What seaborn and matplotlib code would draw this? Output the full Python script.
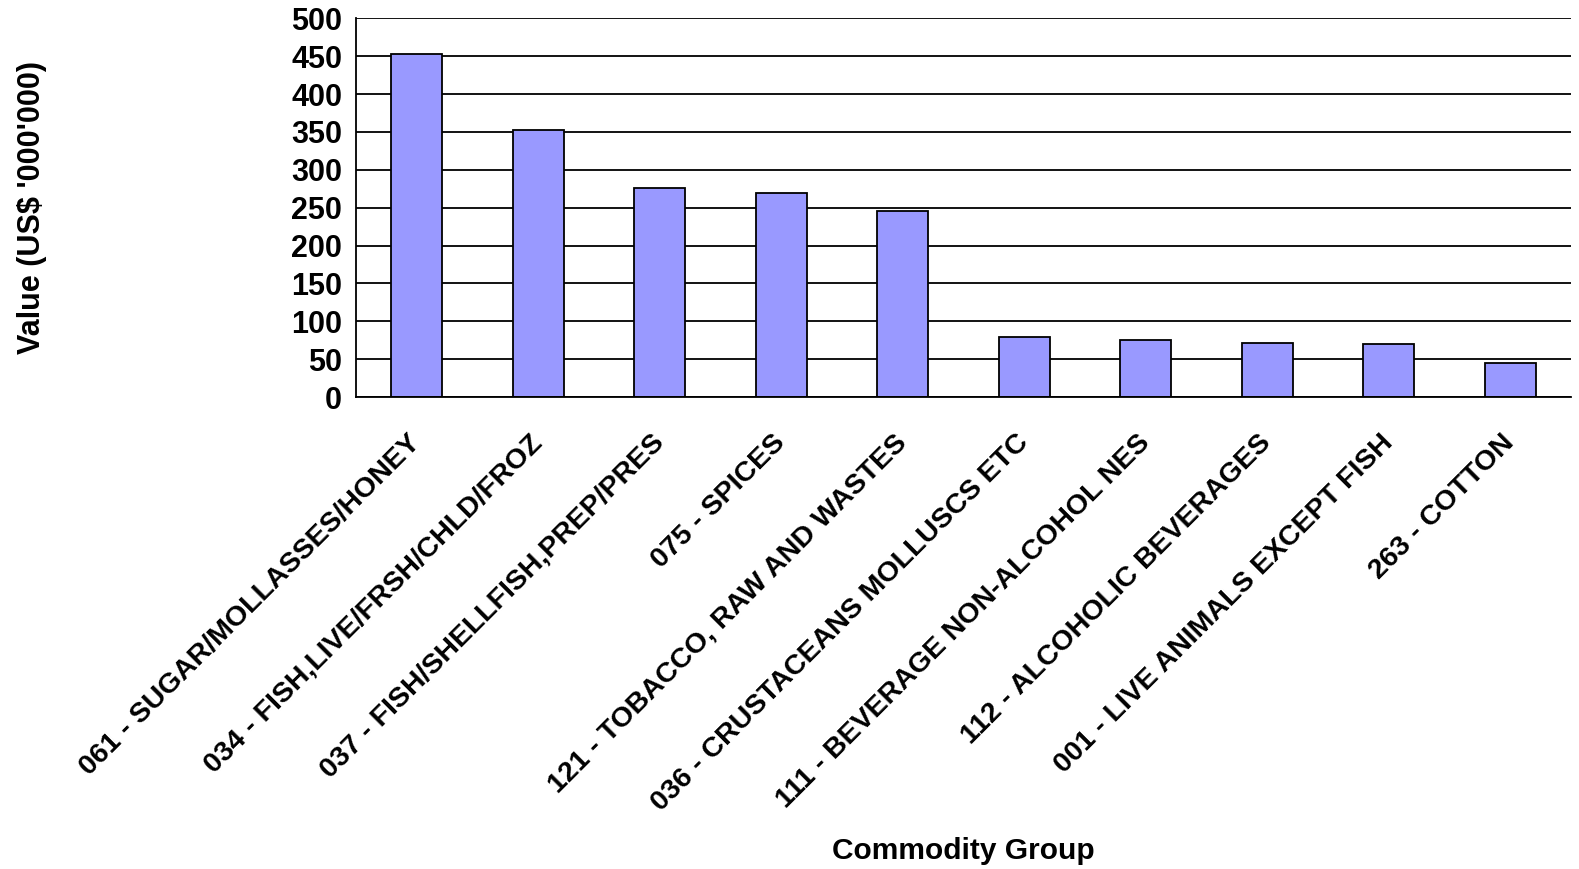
import numpy as np
import pandas as pd
import matplotlib
matplotlib.use("Agg")
import matplotlib.pyplot as plt
import seaborn as sns

sns.set_style("white")
plt.rcParams['font.family'] = ['Liberation Sans', 'DejaVu Sans']
plt.rcParams['font.weight'] = 'bold'
plt.rcParams['text.color'] = 'black'
plt.rcParams['axes.labelcolor'] = 'black'
plt.rcParams['xtick.color'] = 'black'
plt.rcParams['ytick.color'] = 'black'

# -----------------------------
# Data
# -----------------------------
groups = [
    "061 - SUGAR/MOLLASSES/HONEY",
    "034 - FISH,LIVE/FRSH/CHLD/FROZ",
    "037 - FISH/SHELLFISH,PREP/PRES",
    "075 - SPICES",
    "121 - TOBACCO, RAW AND WASTES",
    "036 - CRUSTACEANS MOLLUSCS ETC",
    "111 - BEVERAGE NON-ALCOHOL NES",
    "112 - ALCOHOLIC BEVERAGES",
    "001 - LIVE ANIMALS EXCEPT FISH",
    "263 - COTTON",
]
values = [453, 353, 276, 269, 246, 80, 75, 72, 70, 45]
y_ticks = [0, 50, 100, 150, 200, 250, 300, 350, 400, 450, 500]

df = pd.DataFrame({"Commodity Group": groups, "Value": values})

# -----------------------------
# Plot
# -----------------------------
fig = plt.figure(figsize=(15.79, 8.69), dpi=100)
ax = fig.add_axes([0.2255, 0.543, 0.7695, 0.436])

sns.barplot(data=df, x="Commodity Group", y="Value", color="#9999FF",
            edgecolor="black", linewidth=1.3, width=0.42, saturation=1, ax=ax)

ax.set_ylim(0, 500)
ax.set_xlim(-0.5, len(groups) - 0.5)
ax.set_yticks(y_ticks)
ax.yaxis.grid(True, color="black", linewidth=1.3)
ax.set_axisbelow(True)

for s in ["top", "right"]:
    ax.spines[s].set_visible(False)
for s in ["left", "bottom"]:
    ax.spines[s].set_color("black")
    ax.spines[s].set_linewidth(1.3)

# ticks between categories, labels at centres
ax.set_xticks(np.arange(len(groups)))
ax.set_xticks(np.arange(len(groups) + 1) - 0.5, minor=True)
ax.tick_params(axis="x", which="major", length=0, pad=30)
ax.tick_params(axis="x", which="minor", length=8, width=1.3, color="black", direction="out")
ax.tick_params(axis="y", length=6, width=1.3, color="black", direction="out",
               labelsize=22, pad=4)
ax.set_xticklabels(groups, rotation=45, ha="right", va="center",
                   rotation_mode="anchor", fontsize=20.5, fontweight="bold")
for t in ax.get_yticklabels():
    t.set_fontweight("bold")

ax.set_xlabel("Commodity Group", fontsize=21.5, fontweight="bold")
ax.set_ylabel("Value (US$ '000'000)", fontsize=22, fontweight="bold")
ax.xaxis.set_label_coords(0.5, -1.16)
ax.yaxis.set_label_coords(-0.254, 0.5)

plt.savefig("out.png", dpi=100)
